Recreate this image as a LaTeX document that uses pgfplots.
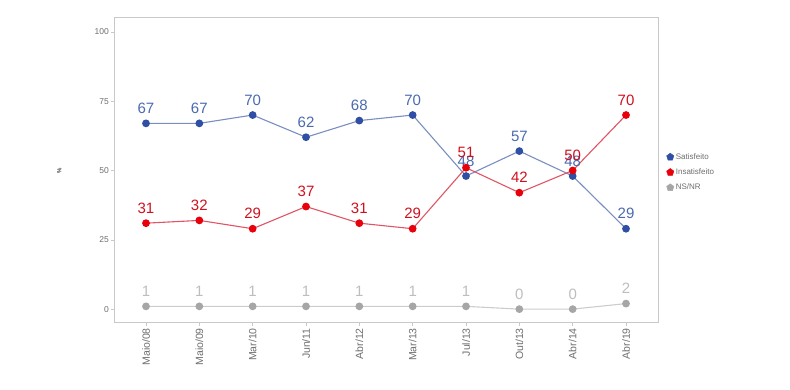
\documentclass[border=0pt]{standalone}
\usepackage{pgfplots}
\pgfplotsset{compat=1.18}
\usepackage{fontspec}
\setmainfont{Liberation Sans}
\definecolor{bpt}{HTML}{2E4FA3}
\definecolor{bln}{HTML}{7A8FC0}
\definecolor{blb}{HTML}{4A6AAE}
\definecolor{rpt}{HTML}{E8000B}
\definecolor{rln}{HTML}{E05565}
\definecolor{rlb}{HTML}{D0101E}
\definecolor{gpt}{HTML}{A6A6A6}
\definecolor{gln}{HTML}{CCCCCC}
\definecolor{glb}{HTML}{BDBDBD}
\definecolor{axc}{HTML}{C8C8C8}
\definecolor{tkc}{HTML}{6E6E6E}
\begin{document}
\begin{tikzpicture}[x=1pt,y=1pt]
\useasboundingbox (0,0) rectangle (790,390);
\begin{axis}[
  at={(114pt,67pt)}, anchor=south west,
  scale only axis, width=544pt, height=305pt,
  xmin=-0.6, xmax=9.6, ymin=-5, ymax=105,
  xtick={0,...,9},
  xticklabels={Maio/08,Maio/09,Mar/10,Jun/11,Abr/12,Mar/13,Jul/13,Out/13,Abr/14,Abr/19},
  ytick={0,25,50,75,100},
  xtick pos=bottom, ytick pos=left,
  tick align=outside, major tick length=3pt,
  tick style={axc, line width=0.6pt},
  axis line style={axc, line width=1pt},
  x tick label style={rotate=90, anchor=east, font=\fontsize{10.5}{12}\selectfont, text=tkc, inner sep=2pt},
  y tick label style={font=\fontsize{8.5}{10}\selectfont, text=tkc, inner sep=2pt},
  /pgf/number format/assume math mode=true,
  ylabel={\%},
  ylabel style={at={(axis description cs:-0.09,0.5)}, font=\fontsize{6}{7}\selectfont, text=black},
  legend style={at={(axis description cs:1.01,0.57)}, anchor=north west, draw=none, fill=none,
    font=\fontsize{8}{9}\selectfont, row sep=4pt, text=tkc},
  legend cell align=left,
  nodes near coords={\pgfmathprintnumber\pgfplotspointmeta},
  point meta=y,
  every node near coord/.append style={anchor=center, yshift=15pt, font=\fontsize{15}{16}\selectfont},
  clip=false,
]
\addplot[forget plot, color=bln, line width=1.1pt, mark=*, mark size=3.3pt,
  mark options={fill=bpt, draw=bpt}, every node near coord/.append style={text=blb}]
  coordinates {(0,67)(1,67)(2,70)(3,62)(4,68)(5,70)(6,48)(7,57)(8,48)(9,29)};
\addplot[forget plot, color=rln, line width=1.1pt, mark=*, mark size=3.3pt,
  mark options={fill=rpt, draw=rpt}, every node near coord/.append style={text=rlb}]
  coordinates {(0,31)(1,32)(2,29)(3,37)(4,31)(5,29)(6,51)(7,42)(8,50)(9,70)};
\addplot[forget plot, color=gln, line width=1.1pt, mark=*, mark size=3.3pt,
  mark options={fill=gpt, draw=gpt}, every node near coord/.append style={text=glb}]
  coordinates {(0,1)(1,1)(2,1)(3,1)(4,1)(5,1)(6,1)(7,0)(8,0)(9,2)};
\addlegendimage{only marks, mark=pentagon*, mark size=3.8pt, color=bpt}
\addlegendentry{Satisfeito}
\addlegendimage{only marks, mark=pentagon*, mark size=3.8pt, color=rpt}
\addlegendentry{Insatisfeito}
\addlegendimage{only marks, mark=pentagon*, mark size=3.8pt, color=gpt}
\addlegendentry{NS/NR}
\end{axis}
\end{tikzpicture}
\end{document}
